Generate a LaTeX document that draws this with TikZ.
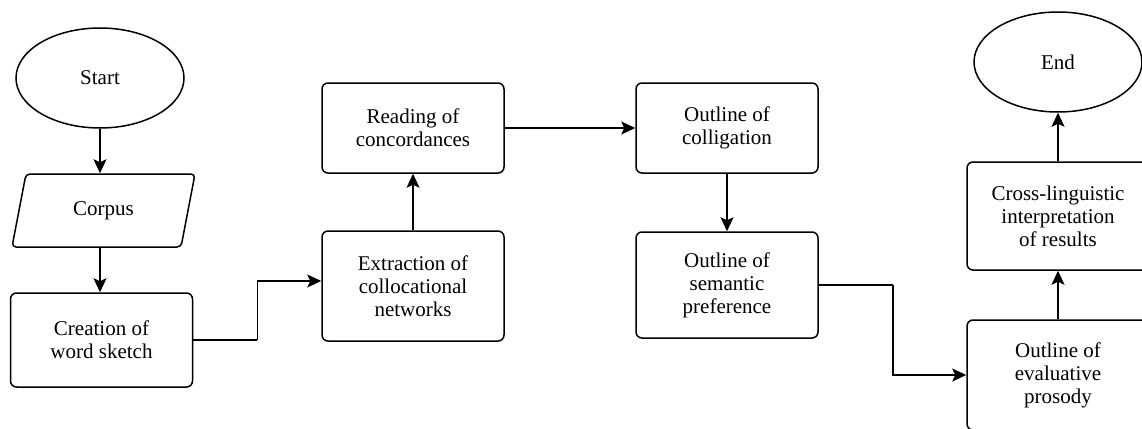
\documentclass[tikz,border=0pt]{standalone}
\usepackage{fontspec}
\setmainfont{Liberation Serif}
\usetikzlibrary{shapes.geometric,arrows.meta}

\tikzset{
  base/.style={draw, line width=1.5pt, align=center, inner sep=2pt,
    font=\fontsize{21}{23}\selectfont},
  stepbox/.style={base, rectangle, rounded corners=6pt,
    minimum width=182pt},
  terminal/.style={base, ellipse, minimum width=168pt, minimum height=100pt},
  iobox/.style={base, trapezium, trapezium left angle=58,
    trapezium right angle=122, trapezium stretches body=true,
    rounded corners=4pt, minimum width=183pt, minimum height=73pt},
  flow/.style={line width=1.5pt, -{Stealth[length=14pt,width=13pt,inset=3pt]}},
  link/.style={line width=1.5pt}
}

\begin{document}
\begin{tikzpicture}[x=1pt, y=-1pt]
  \useasboundingbox (0,0) rectangle (1142,428);
  \clip (0,0) rectangle (1142,428);

  % left column
  \node[terminal] (start) at (100,78) {Start};
  \node[iobox] (corpus) at (103.5,210.5) {Corpus};
  \node[stepbox, minimum height=94pt] (creation) at (101.5,340) {Creation of\\word sketch};

  % second column
  \node[stepbox, minimum height=110pt] (extraction) at (413,286) {Extraction of\\collocational\\networks};
  \node[stepbox, minimum height=90pt] (reading) at (413,128) {Reading of\\concordances};

  % third column
  \node[stepbox, minimum height=90pt] (colligation) at (727,128) {Outline of\\colligation};
  \node[stepbox, minimum height=106pt] (semantic) at (727,285) {Outline of\\semantic\\preference};

  % right column
  \node[stepbox, minimum height=110pt] (evaluative) at (1058,375) {Outline of\\evaluative\\prosody};
  \node[stepbox, minimum height=108pt] (cross) at (1058,216) {Cross-linguistic\\interpretation\\of results};
  \node[terminal] (end) at (1058,62) {End};

  % connectors
  \draw[flow] (start.south) -- (start.south |- corpus.north);
  \draw[flow] (start.south |- corpus.south) -- (start.south |- creation.north);
  \draw[link] (creation.east) -- ++(64,0) coordinate (bendA);
  \draw[flow] (bendA) |- ([yshift=5pt]extraction.west);
  \draw[flow] (extraction.north) -- (reading.south);
  \draw[flow] (reading.east) -- (colligation.west);
  \draw[flow] (colligation.south) -- (semantic.north);
  \draw[link] (semantic.east) -- ++(74,0) coordinate (bendB);
  \draw[flow] (bendB) |- (evaluative.west);
  \draw[flow] (evaluative.north) -- (cross.south);
  \draw[flow] (cross.north) -- (end.south);
\end{tikzpicture}
\end{document}
